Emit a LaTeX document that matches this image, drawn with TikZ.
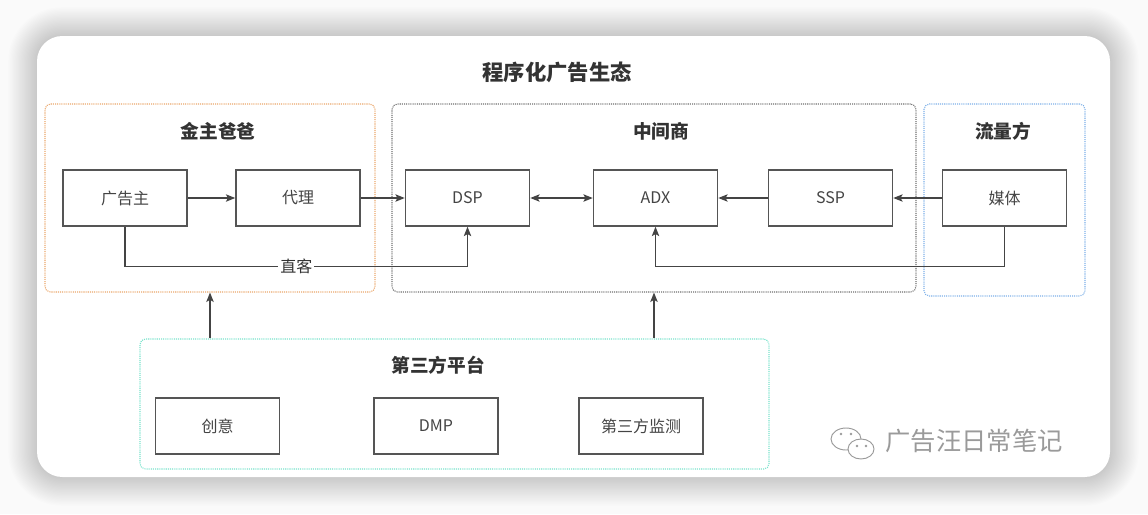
\documentclass[tikz,border=0pt]{standalone}
\usepackage{fontspec}
\setmainfont{Noto Sans CJK SC}
\usetikzlibrary{arrows.meta, positioning, calc}

\definecolor{boxline}{HTML}{555555}
\definecolor{arrline}{HTML}{444444}
\definecolor{labeltext}{HTML}{444444}
\definecolor{titletext}{HTML}{333333}
\definecolor{orangeline}{HTML}{EBA66A}
\definecolor{grayline}{HTML}{707070}
\definecolor{blueline}{HTML}{7DB0E8}
\definecolor{tealline}{HTML}{78E3CC}
\definecolor{wmgray}{HTML}{9A9A9A}
\definecolor{pagebg}{HTML}{FAFAFA}

\tikzset{
  box/.style={draw=boxline, line width=1.1pt, minimum width=93pt, minimum height=42pt,
    inner sep=0pt, text=labeltext, font=\fontsize{12}{14}\selectfont},
  group/.style={draw=#1, line width=0.8pt, dash pattern=on 0.8pt off 0.8pt,
    rounded corners=4pt, inner sep=0pt},
  grouptitle/.style={text=titletext, font=\fontsize{14}{16}\selectfont\bfseries},
  arr/.style={draw=arrline, line width=1.1pt, -{Stealth[length=7pt,width=5.5pt,inset=1.5pt]}},
  biarr/.style={draw=arrline, line width=1.1pt,
    {Stealth[length=7pt,width=5.5pt,inset=1.5pt]}-{Stealth[length=7pt,width=5.5pt,inset=1.5pt]}},
}

\begin{document}
\begin{tikzpicture}[x=0.75pt, y=-0.75pt]
\useasboundingbox (0,0) rectangle (1148,514);
\fill[pagebg] (0,0) rectangle (1148,514);
% card shadow and card
\foreach \i in {1,...,24}
  \fill[black, opacity=0.007, rounded corners={(25+1.2*\i)*0.75pt}]
    (37-1.2*\i,36-1.2*\i) rectangle (1110+1.2*\i,477+1.2*\i);
\fill[white, rounded corners=19pt] (37,36) rectangle (1110,477);

\node[text=titletext, font=\fontsize{16}{18}\selectfont\bfseries] (title) at (557,72) {程序化广告生态};

% groups
\node[group=orangeline, minimum width=247.5pt, minimum height=141pt] (jz) at (210,198) {};
\node[group=grayline, minimum width=393pt, minimum height=141pt] (zj) at (654,198) {};
\node[group=blueline, minimum width=120.75pt, minimum height=144pt] (ll) at (1004.5,200) {};
\node[group=tealline, minimum width=471.75pt, minimum height=97.5pt] (sf) at (454.5,404) {};

\node[grouptitle] at (218,131) {金主爸爸};
\node[grouptitle] at (661,131) {中间商};
\node[grouptitle] at (1003,131) {流量方};
\node[grouptitle] at (438,365) {第三方平台};

% boxes
\node[box] (ggz) at (125,198) {广告主};
\node[box] (dl) at (298,198) {代理};
\node[box] (dsp) at (467.5,198) {DSP};
\node[box] (adx) at (655.5,198) {ADX};
\node[box] (ssp) at (830.5,198) {SSP};
\node[box] (mt) at (1004.5,198) {媒体};
\node[box] (cy) at (217.5,426) {创意};
\node[box] (dmp) at (436,426) {DMP};
\node[box] (jc) at (641,426) {第三方监测};

% arrows
\draw[arr] (ggz) -- (dl);
\draw[arr] (dl) -- (dsp);
\draw[biarr] (dsp) -- (adx);
\draw[arr] (ssp) -- (adx);
\draw[arr] (mt) -- (ssp);
\draw[arr] (ggz.south) -- ++(0,40) -| (dsp.south)
  node[pos=0.25, fill=white, inner sep=1.5pt, text=titletext, font=\fontsize{12}{14}\selectfont] {直客};
\draw[arr] (mt.south) -- ++(0,40) -| (adx.south);
\draw[arr] (sf.north -| jz.south) -- (jz.south);
\draw[arr] (sf.north -| zj.south) -- (zj.south);

% watermark
\draw[wmgray, line width=0.7pt] (846,439) ellipse [x radius=15, y radius=11];
\fill[white] (861,449) ellipse [x radius=13, y radius=10];
\draw[wmgray, line width=0.7pt] (861,449) ellipse [x radius=13, y radius=10];
\foreach \p in {(841,434),(851,434),(857,446),(866,446)}
  \fill[wmgray] \p circle [radius=1.3];
\node[text=wmgray, font=\fontsize{19}{22}\selectfont] (wm) at (974,441) {广告汪日常笔记};
\end{tikzpicture}
\end{document}
